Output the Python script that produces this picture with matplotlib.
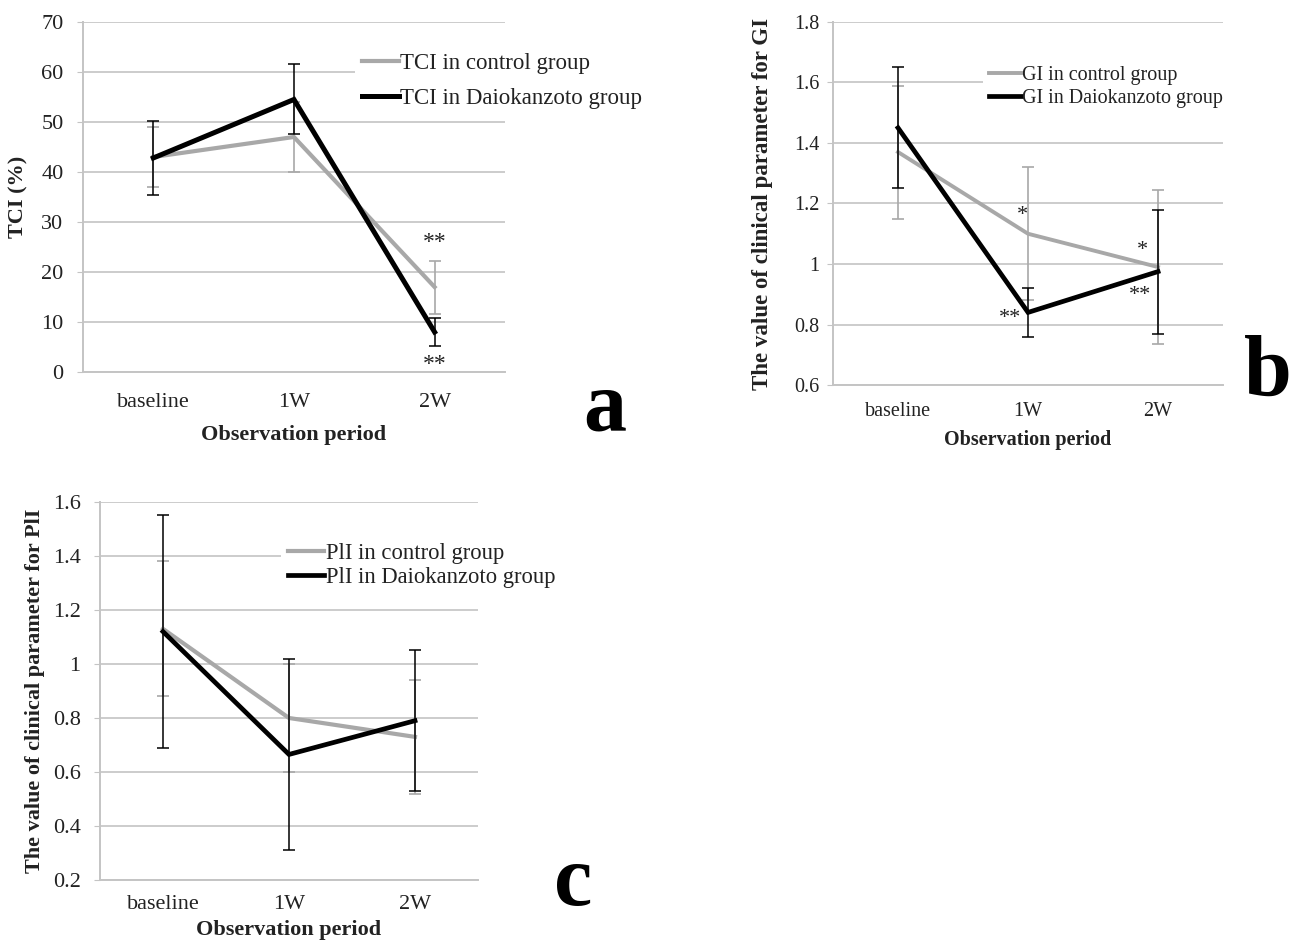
import matplotlib
matplotlib.use("Agg")
import matplotlib.pyplot as plt

plt.rcParams['font.family'] = ['Liberation Serif', 'DejaVu Serif']

periods = ['baseline', '1W', '2W']
x = [0, 1, 2]

# panel a: TCI (%)
tci_control = [43.0, 47.0, 17.0]
tci_control_err = [6.0, 7.0, 5.3]
tci_daio = [42.8, 54.5, 8.0]
tci_daio_err = [7.4, 7.0, 2.8]
tci_stars = [(2, 25.8, '**'), (2, 1.6, '**')]

# panel b: GI
gi_control = [1.37, 1.10, 0.99]
gi_control_err = [0.22, 0.22, 0.255]
gi_daio = [1.45, 0.84, 0.975]
gi_daio_err = [0.20, 0.08, 0.205]
gi_stars = [(0.96, 1.16, '*'), (1.88, 1.045, '*'), (0.86, 0.82, '**'), (1.86, 0.895, '**')]

# panel c: PlI
pli_control = [1.13, 0.80, 0.73]
pli_control_err = [0.25, 0.20, 0.21]
pli_daio = [1.12, 0.665, 0.79]
pli_daio_err = [0.43, 0.355, 0.26]

GRAY = '#a8a8a8'
GRID = '#c4c4c4'
TXT = '#222222'


def panel(ax, ctrl, ctrl_err, daio, daio_err, names, ylim, yticks, yticklabels,
          ylabel, fs, lw_ctrl, lw_daio, leg_pos, leg_space, leg_fs, xpad, ypad,
          ylabfs, ylabx, xlaby):
    ax.errorbar(x, ctrl, yerr=ctrl_err, fmt='none', ecolor=GRAY, elinewidth=1.2,
                capsize=4, capthick=1.2, zorder=2)
    ax.plot(x, ctrl, color=GRAY, lw=lw_ctrl, label=names[0], zorder=3,
            solid_joinstyle='round')
    ax.errorbar(x, daio, yerr=daio_err, fmt='none', ecolor='black', elinewidth=1.1,
                capsize=4, capthick=1.1, zorder=4)
    ax.plot(x, daio, color='black', lw=lw_daio, label=names[1], zorder=5,
            solid_joinstyle='miter')
    ax.set_xlim(-0.5, 2.5)
    ax.set_ylim(*ylim)
    ax.set_yticks(yticks)
    ax.set_yticklabels(yticklabels)
    ax.set_xticks(x)
    ax.set_xticklabels(periods)
    ax.grid(axis='y', color=GRID, lw=1.2)
    ax.set_axisbelow(True)
    for s in ['top', 'right']:
        ax.spines[s].set_visible(False)
    for s in ['left', 'bottom']:
        ax.spines[s].set_color(GRID)
        ax.spines[s].set_linewidth(1.4)
    ax.tick_params(axis='y', length=4, color=GRID, labelsize=fs, labelcolor=TXT, pad=ypad)
    ax.tick_params(axis='x', length=0, labelsize=fs, labelcolor=TXT, pad=xpad)
    ax.set_ylabel(ylabel, fontsize=ylabfs, fontweight='bold', color=TXT)
    ax.yaxis.set_label_coords(ylabx, 0.5)
    ax.set_xlabel('Observation period', fontsize=fs, fontweight='bold', color=TXT)
    ax.xaxis.set_label_coords(0.5, xlaby)
    leg = ax.legend(loc='upper left', bbox_to_anchor=leg_pos, frameon=True,
                    facecolor='white', edgecolor='none', framealpha=1,
                    fontsize=leg_fs, handlelength=1.6, handletextpad=0.05,
                    borderpad=0.3, labelspacing=leg_space, borderaxespad=0)
    leg.set_zorder(6)
    for t in leg.get_texts():
        t.set_color(TXT)


fig = plt.figure(figsize=(13, 9.43), dpi=100)

ax_a = fig.add_axes([0.0638, 0.6055, 0.3246, 0.3712])
panel(ax_a, tci_control, tci_control_err, tci_daio, tci_daio_err,
      ['TCI in control group', 'TCI in Daiokanzoto group'],
      (0, 70), range(0, 71, 10), [str(v) for v in range(0, 71, 10)],
      'TCI (%)', 16, 3.0, 3.6, (0.645, 0.93), 0.6, 16.5, 15, 10, 16, -0.13, -0.15)
for xi, yi, s in tci_stars:
    ax_a.text(xi, yi, s, ha='center', va='center', fontsize=17, color=TXT)

ax_b = fig.add_axes([0.6408, 0.5917, 0.3, 0.385])
gi_ticks = [0.6, 0.8, 1.0, 1.2, 1.4, 1.6, 1.8]
panel(ax_b, gi_control, gi_control_err, gi_daio, gi_daio_err,
      ['GI in control group', 'GI in Daiokanzoto group'],
      (0.6, 1.8), gi_ticks, ['0.6', '0.8', '1', '1.2', '1.4', '1.6', '1.8'],
      'The value of clinical parameter for GI', 14.5, 2.8, 3.4, (0.385, 0.895), 0.2,
      14.5, 12, 6, 16.5, -0.155, -0.125)
for xi, yi, s in gi_stars:
    ax_b.text(xi, yi, s, ha='center', va='center', fontsize=16, color=TXT)

ax_c = fig.add_axes([0.0769, 0.0668, 0.2908, 0.4009])
pli_ticks = [0.2, 0.4, 0.6, 0.8, 1.0, 1.2, 1.4, 1.6]
panel(ax_c, pli_control, pli_control_err, pli_daio, pli_daio_err,
      ['PlI in control group', 'PlI in Daiokanzoto group'],
      (0.2, 1.6), pli_ticks, ['0.2', '0.4', '0.6', '0.8', '1', '1.2', '1.4', '1.6'],
      'The value of clinical parameter for PlI', 16, 3.0, 3.4, (0.48, 0.91), 0.15,
      16.3, 11, 10, 16, -0.145, -0.105)

fig.text(0.4655, 0.544, 'a', ha='center', va='baseline', fontsize=62, fontweight='bold')
fig.text(0.975, 0.581, 'b', ha='center', va='baseline', fontsize=62, fontweight='bold')
fig.text(0.441, 0.040, 'c', ha='center', va='baseline', fontsize=62, fontweight='bold')

fig.savefig('out.png', dpi=100, facecolor='white')
